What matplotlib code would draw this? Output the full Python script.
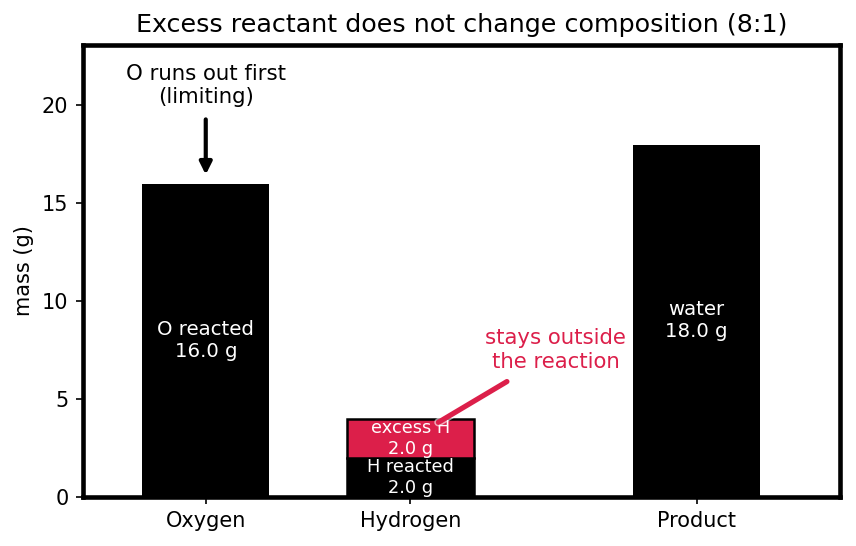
import numpy as np
import matplotlib.pyplot as plt
import matplotlib.patheffects as pe

categories = ["Oxygen", "Hydrogen", "Product"]
positions = [0, 1, 2.4]
reacted = [16.0, 2.0, 18.0]
excess = [0.0, 2.0, 0.0]
reacted_labels = ["O reacted", "H reacted", "water"]

CRIMSON = "#dc1f4a"

fig, ax = plt.subplots(figsize=(5.707, 3.64), dpi=150)
fig.subplots_adjust(left=0.097, right=0.981, top=0.918, bottom=0.09)

# reacted portions
ax.bar(positions[0], reacted[0], width=0.62, color="black")
ax.bar(positions[2], reacted[2], width=0.62, color="black")
ax.bar(positions[1], reacted[1], width=0.62, color="black", edgecolor="black", linewidth=1.2)
ax.bar(positions[1], excess[1], bottom=reacted[1], width=0.62, color=CRIMSON,
       edgecolor="black", linewidth=1.2)

# in-bar labels
ax.text(positions[0], reacted[0] / 2, f"{reacted_labels[0]}\n{reacted[0]:.1f} g",
        ha="center", va="center", color="white", fontsize=9.5)
ax.text(positions[2], reacted[2] / 2, f"{reacted_labels[2]}\n{reacted[2]:.1f} g",
        ha="center", va="center", color="white", fontsize=9.5)
ax.text(positions[1], reacted[1] / 2, f"{reacted_labels[1]}\n{reacted[1]:.1f} g",
        ha="center", va="center", color="white", fontsize=8.5)
ax.text(positions[1], reacted[1] + excess[1] / 2, f"excess H\n{excess[1]:.1f} g",
        ha="center", va="center", color="white", fontsize=8.5)

# limiting reactant callout
ax.text(positions[0], 21.0, "O runs out first\n(limiting)", ha="center", va="center", fontsize=10.2)
ax.annotate("", xy=(positions[0], reacted[0] + 0.25), xytext=(positions[0], 19.5),
            arrowprops=dict(arrowstyle="-|>", color="black", lw=2, mutation_scale=12))

# excess callout
ax.text(1.71, 7.5, "stays outside\nthe reaction", ha="center", va="center",
        fontsize=10.2, color=CRIMSON)
ax.annotate("", xy=(1.12, 3.7), xytext=(1.49, 6.0),
            arrowprops=dict(arrowstyle="-", color=CRIMSON, lw=2.5,
                            path_effects=[pe.withStroke(linewidth=4, foreground="white", alpha=0.6)]))

ax.set_xticks(positions)
ax.set_xticklabels(categories, fontsize=10)
ax.tick_params(axis="y", labelsize=10)
ax.set_xlim(-0.6, 3.1)
ax.set_ylim(0, 23.1)
ax.set_ylabel("mass (g)", fontsize=10)
ax.set_title("Excess reactant does not change composition (8:1)", fontsize=12.2)
for s in ax.spines.values():
    s.set_linewidth(2.2)

fig.savefig("out.png", dpi=150)
